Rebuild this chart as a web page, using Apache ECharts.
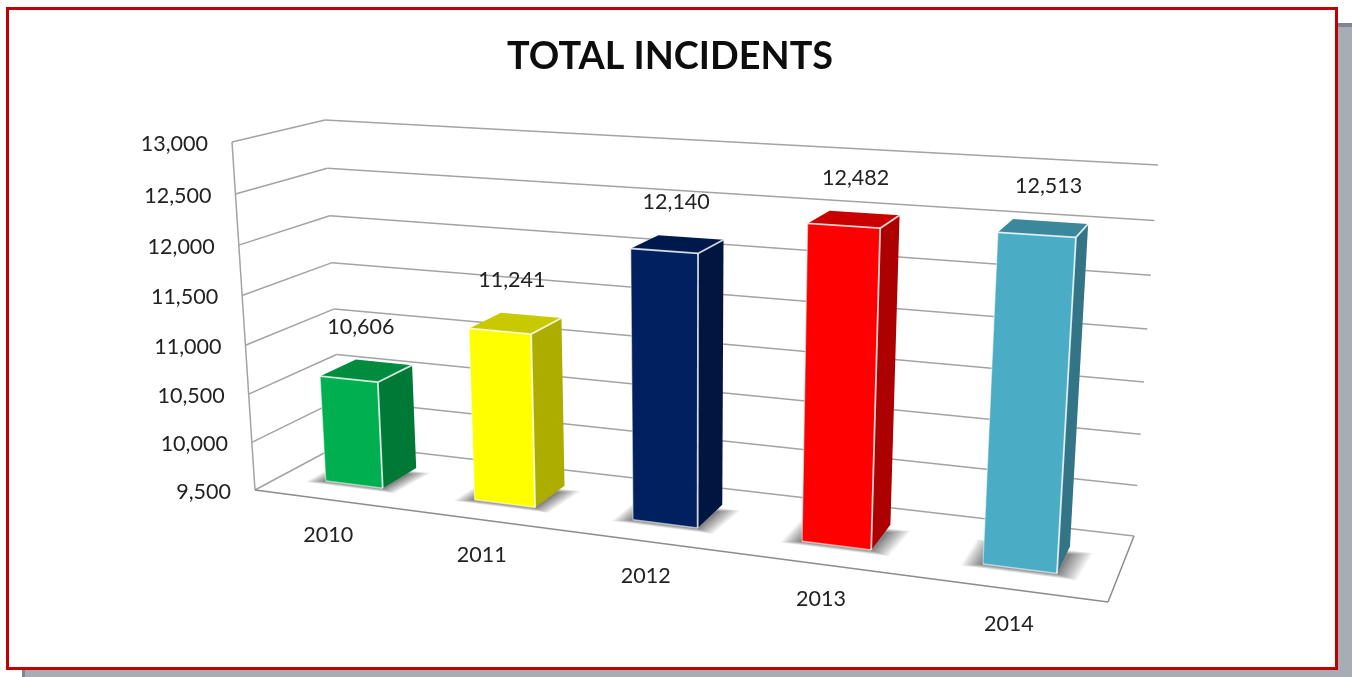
<!DOCTYPE html>
<html>
	<head>
		<meta charset="utf-8">
		<title>Total Incidents</title>
		<style>
			html, body { margin: 0; padding: 0; background: #fff; }
			#main { width: 1352px; height: 677px; }
		</style>
	</head>
	<body>
		<div id="main"></div>
		<script src="https://cdn.jsdelivr.net/npm/echarts@6/dist/echarts.min.js"></script>
		<script>
			// data
			var years = ['2010', '2011', '2012', '2013', '2014'];
			var incidents = [10606, 11241, 12140, 12482, 12513];
			var barColors = ['#00B050', '#FFFF00', '#002060', '#FF0000', '#4BACC6'];
			var tickValues = [9500, 10000, 10500, 11000, 11500, 12000, 12500, 13000];

			// where the corners of the 3D box land on screen, [u][h][d]
			// u: along the years, h: up the value axis, d: front to back
			var boxCorners = [
				[[[255, 490], [341, 444]], [[232, 142], [325, 120]]],
				[[[1108, 602], [1134, 536]], [[1135, 192], [1158, 165]]]
			];
			var persp = { u: -0.155, h: -0.05, d: 0.08 };
			var barFrac = 0.39;
			var barFront = 0.3, barBack = 0.72;
			var textFont = 'Lato';

			function project(u, h, d) {
				var sx = 0, sy = 0, sw = 0;
				for (var i = 0; i < 2; i++) {
					for (var j = 0; j < 2; j++) {
						for (var k = 0; k < 2; k++) {
							var t = (i ? u : 1 - u) * (j ? h : 1 - h) * (k ? d : 1 - d);
							var w = t * (1 + persp.u * i + persp.h * j + persp.d * k);
							sx += w * boxCorners[i][j][k][0];
							sy += w * boxCorners[i][j][k][1];
							sw += w;
						}
					}
				}
				return [sx / sw, sy / sw];
			}

			// turn a data point into box fractions using the (hidden) cartesian axes
			function toBox(params, api, cat, val) {
				var p = api.coord([cat, val]);
				var g = params.coordSys;
				return { u: (p[0] - g.x) / g.width, h: (g.y + g.height - p[1]) / g.height, band: api.size([1, 0])[0] / g.width };
			}

			function darken(color, amount) {
				return echarts.color.lerp(amount, [color, '#000000']);
			}

			function poly(points, fill) {
				return { type: 'polygon', shape: { points: points }, style: { fill: fill }, silent: true };
			}

			function seg(a, b, color, width) {
				return {
					type: 'line',
					shape: { x1: a[0], y1: a[1], x2: b[0], y2: b[1] },
					style: { stroke: color, lineWidth: width, fill: null },
					silent: true
				};
			}

			function label(text, pos, align) {
				return {
					type: 'text',
					style: {
						text: text, x: pos[0], y: pos[1], align: align, verticalAlign: 'middle',
						fill: '#222', font: '21.5px ' + textFont
					},
					silent: true
				};
			}

			function renderWalls(params, api) {
				var v = api.value(1);
				var b = toBox(params, api, 0, v);
				var gridColor = '#a3a3a3';
				var front = project(0, b.h, 0);
				var back = project(0, b.h, 1);
				var right = project(1, b.h, 1);
				var children = [
					seg(front, back, gridColor, 1.5),
					seg(back, right, gridColor, 1.5),
					label(api.value(2), [front[0] - 24, front[1] + 2], 'right')
				];
				if (params.dataIndex === 0) {
					children.push(seg(project(0, 0, 0), project(0, 1, 0), gridColor, 1.5));
					children.push(seg(project(0, 0, 0), project(1, 0, 0), '#8c8c8c', 1.5));
					children.push(seg(project(1, 0, 0), project(1, 0, 1), '#8c8c8c', 1.5));
				}
				return { type: 'group', children: children };
			}

			function barBox(params, api) {
				var b = toBox(params, api, api.value(0), api.value(1));
				var half = b.band * barFrac / 2;
				return { u0: b.u - half, u1: b.u + half, h: b.h, mid: b.u };
			}

			// soft floor shadow: many see-through footprints, each a bit bigger
			function renderShadow(params, api) {
				var s = barBox(params, api);
				var children = [];
				var layers = 16;
				for (var t = 0; t < layers; t++) {
					var grow = Math.pow(t / (layers - 1), 1.3);
					children.push(poly([
						project(s.u0 - 0.002 - 0.019 * grow, 0, barFront - 0.01 - 0.05 * grow),
						project(s.u1 + 0.002 + 0.02 * grow, 0, barFront - 0.01 - 0.05 * grow),
						project(s.u1 + 0.004 + 0.022 * grow, 0, barBack - 0.12 + 0.06 * grow),
						project(s.u0 - 0.002 - 0.019 * grow, 0, barBack - 0.12 + 0.06 * grow)
					], 'rgba(70,70,70,0.06)'));
				}
				return { type: 'group', children: children };
			}

			function renderBar(params, api) {
				var s = barBox(params, api);
				var color = barColors[params.dataIndex];
				var ftl = project(s.u0, s.h, barFront), ftr = project(s.u1, s.h, barFront);
				var fbl = project(s.u0, 0, barFront), fbr = project(s.u1, 0, barFront);
				var btl = project(s.u0, s.h, barBack), btr = project(s.u1, s.h, barBack);
				var bbr = project(s.u1, 0, barBack);
				var edge = 'rgba(255,255,255,0.8)';
				var frontMid = project(s.mid, s.h, barFront);
				var backMid = project(s.mid, s.h, barBack);
				return {
					type: 'group',
					children: [
						poly([ftr, btr, bbr, fbr], darken(color, 0.32)),
						poly([ftl, btl, btr, ftr], darken(color, 0.21)),
						poly([ftl, ftr, fbr, fbl], color),
						seg(ftl, ftr, edge, 1.8),
						seg(ftr, fbr, edge, 1.8),
						seg(ftl, fbl, 'rgba(255,255,255,0.5)', 1.2),
						seg(fbl, fbr, 'rgba(255,255,255,0.6)', 1.5),
						seg(ftr, btr, edge, 1.8),
						label(api.value(2), [frontMid[0] + 12, backMid[1] - 35], 'center')
					]
				};
			}

			function renderYear(params, api) {
				var b = toBox(params, api, api.value(0), tickValues[0]);
				var p = project(b.u, 0, 0);
				return label(api.value(1), [p[0], p[1] + 35], 'center');
			}

			var chart = echarts.init(document.getElementById('main'), null, { renderer: 'canvas' });

			chart.setOption({
				animation: false,
				backgroundColor: '#fff',
				title: {
					text: 'TOTAL INCIDENTS',
					left: 665,
					top: 33,
					textAlign: 'center',
					textStyle: { fontFamily: textFont, fontWeight: 'bold', fontSize: 37.8, color: '#0d0d0d' }
				},
				// frame and drop shadow of the picture
				graphic: [
					{ type: 'rect', z: 0, shape: { x: 22, y: 23, width: 1330, height: 654 }, style: { fill: '#7f8494' } },
					{ type: 'rect', z: 0, shape: { x: 25, y: 27, width: 1327, height: 650 }, style: { fill: '#a8acb4' } },
					{ type: 'rect', z: 1, shape: { x: 7.5, y: 8.5, width: 1329, height: 660 }, style: { fill: '#fff', stroke: '#c00000', lineWidth: 3 } }
				],
				grid: { left: 100, top: 100, width: 1000, height: 400 },
				xAxis: { type: 'category', data: years, show: false },
				yAxis: { type: 'value', min: 9500, max: 13000, interval: 500, show: false },
				series: [
					{
						type: 'custom',
						z: 2,
						renderItem: renderWalls,
						data: tickValues.map(function (v) { return [0, v, v.toLocaleString('en-US')]; })
					},
					{
						type: 'custom',
						z: 3,
						renderItem: renderShadow,
						data: incidents.map(function (v, i) { return [i, v]; })
					},
					{
						type: 'custom',
						z: 4,
						renderItem: renderBar,
						data: incidents.map(function (v, i) { return [i, v, v.toLocaleString('en-US')]; })
					},
					{
						type: 'custom',
						z: 4,
						renderItem: renderYear,
						data: years.map(function (y, i) { return [i, y]; }),
						dimensions: ['cat', { name: 'year', type: 'ordinal' }]
					}
				]
			});
		</script>
	</body>
</html>
